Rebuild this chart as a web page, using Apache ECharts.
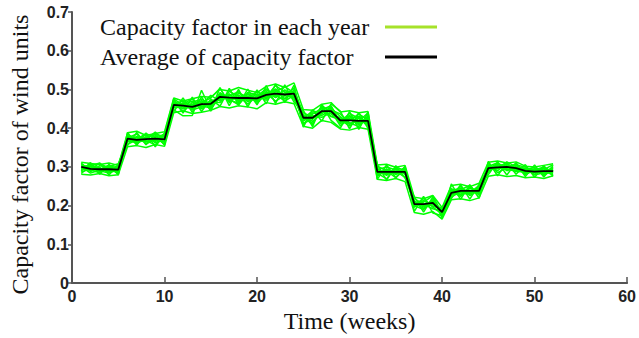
<!DOCTYPE html>
<html>
<head>
<meta charset="utf-8">
<script src="https://cdn.jsdelivr.net/npm/echarts@6/dist/echarts.min.js"></script>
<style>
  html, body { margin: 0; padding: 0; background: #ffffff; }
  #chart { width: 639px; height: 338px; }
</style>
</head>
<body>
<div id="chart"></div>
<script>
// Week numbers (x values)
const weeks = [1,2,3,4,5,6,7,8,9,10,11,12,13,14,15,16,17,18,19,20,21,22,23,24,25,26,
  27,28,29,30,31,32,33,34,35,36,37,38,39,40,41,42,43,44,45,46,47,48,49,50,51,52];

// Average weekly capacity factor over all years
const averageCF = [0.300,0.295,0.294,0.294,0.293, 0.373,0.370,0.372,0.373,0.371,
  0.460,0.458,0.455,0.462,0.463, 0.481,0.479,0.478,0.478,0.477, 0.486,0.489,0.487,0.489,
  0.427,0.427,0.444,0.444, 0.420,0.420,0.419,0.419, 0.287,0.287,0.287,0.287,
  0.204,0.204,0.207,0.183, 0.233,0.238,0.238,0.238, 0.297,0.299,0.300,0.297, 0.290,0.288,0.289,0.289];

// Weekly capacity factor of each simulated year
const year1 = [0.305,0.300,0.288,0.297,0.302, 0.381,0.362,0.378,0.366,0.380, 0.468,0.449,0.462,0.471,0.455,
  0.492,0.470,0.486,0.469,0.489, 0.478,0.502,0.476,0.498, 0.418,0.436,0.452,0.431, 0.428,0.409,0.431,0.412,
  0.296,0.278,0.294,0.281, 0.212,0.196,0.214,0.176, 0.241,0.229,0.247,0.232, 0.305,0.290,0.309,0.291, 0.297,0.281,0.296,0.283];
const year2 = [0.292,0.301,0.297,0.286,0.291, 0.366,0.379,0.364,0.381,0.363, 0.452,0.466,0.447,0.455,0.471,
  0.473,0.489,0.468,0.490,0.470, 0.495,0.479,0.499,0.480, 0.436,0.417,0.438,0.455, 0.411,0.430,0.408,0.427,
  0.279,0.295,0.280,0.296, 0.197,0.213,0.199,0.190, 0.226,0.246,0.231,0.246, 0.288,0.307,0.292,0.306, 0.283,0.296,0.281,0.297];
const year3 = [0.310,0.288,0.303,0.300,0.285, 0.375,0.385,0.359,0.372,0.386, 0.475,0.460,0.470,0.450,0.468,
  0.466,0.495,0.482,0.462,0.484, 0.472,0.494,0.507,0.491, 0.409,0.440,0.433,0.447, 0.437,0.414,0.404,0.433,
  0.302,0.290,0.272,0.295, 0.218,0.204,0.192,0.186, 0.244,0.233,0.229,0.250, 0.301,0.311,0.294,0.289, 0.293,0.299,0.278,0.292];
const year4 = [0.296,0.307,0.291,0.290,0.298, 0.358,0.370,0.383,0.362,0.374, 0.447,0.432,0.433,0.498,0.447,
  0.486,0.475,0.460,0.488,0.463, 0.490,0.470,0.484,0.503, 0.430,0.409,0.460,0.437, 0.417,0.438,0.425,0.405,
  0.284,0.269,0.300,0.290, 0.200,0.190,0.219,0.171, 0.230,0.250,0.226,0.240, 0.293,0.296,0.313,0.300, 0.280,0.292,0.300,0.286];
const year5 = [0.287,0.295,0.309,0.296,0.283, 0.380,0.366,0.371,0.390,0.368, 0.462,0.470,0.458,0.466,0.478,
  0.503,0.466,0.491,0.480,0.474, 0.499,0.487,0.470,0.485, 0.422,0.432,0.428,0.440, 0.424,0.420,0.436,0.422,
  0.291,0.283,0.289,0.273, 0.205,0.213,0.203,0.193, 0.238,0.227,0.240,0.230, 0.310,0.285,0.298,0.305, 0.300,0.286,0.293,0.306];
const year6 = [0.301,0.284,0.292,0.305,0.294, 0.369,0.376,0.368,0.357,0.377, 0.455,0.452,0.461,0.458,0.452,
  0.478,0.485,0.472,0.476,0.495, 0.481,0.510,0.493,0.474, 0.425,0.445,0.438,0.452, 0.430,0.412,0.418,0.440,
  0.276,0.294,0.284,0.299, 0.196,0.209,0.225,0.180, 0.235,0.241,0.252,0.227, 0.287,0.304,0.306,0.296, 0.289,0.285,0.290,0.279];
const year7 = [0.298,0.292,0.285,0.301,0.308, 0.364,0.372,0.386,0.376,0.359, 0.466,0.458,0.450,0.462,0.485,
  0.470,0.483,0.494,0.468,0.482, 0.502,0.480,0.491,0.495, 0.413,0.422,0.456,0.444, 0.406,0.426,0.430,0.410,
  0.293,0.300,0.292,0.288, 0.209,0.200,0.209,0.184, 0.222,0.236,0.234,0.252, 0.296,0.309,0.290,0.300, 0.296,0.279,0.285,0.295];
const year8 = [0.294,0.304,0.298,0.288,0.300, 0.372,0.360,0.374,0.384,0.379, 0.470,0.441,0.467,0.475,0.461,
  0.489,0.472,0.465,0.492,0.486, 0.476,0.496,0.475,0.496, 0.440,0.428,0.445,0.430, 0.422,0.405,0.426,0.416,
  0.287,0.281,0.297,0.283, 0.207,0.193,0.205,0.189, 0.240,0.244,0.236,0.238, 0.300,0.295,0.303,0.288, 0.287,0.294,0.284,0.300];
const year9 = [0.303,0.296,0.290,0.284,0.296, 0.377,0.368,0.365,0.370,0.383, 0.458,0.463,0.475,0.454,0.470,
  0.476,0.480,0.473,0.483,0.468, 0.488,0.498,0.484,0.479, 0.432,0.412,0.448,0.458, 0.415,0.433,0.412,0.428,
  0.283,0.291,0.286,0.292, 0.201,0.219,0.196,0.178, 0.236,0.224,0.245,0.236, 0.291,0.300,0.296,0.309, 0.284,0.290,0.297,0.288];
const year10 = [0.307,0.290,0.296,0.292,0.287, 0.384,0.371,0.376,0.368,0.365, 0.464,0.455,0.452,0.468,0.458,
  0.484,0.477,0.480,0.474,0.479, 0.492,0.484,0.497,0.488, 0.428,0.425,0.440,0.449, 0.419,0.424,0.415,0.418,
  0.290,0.286,0.283,0.290, 0.203,0.201,0.211,0.181, 0.232,0.238,0.231,0.244, 0.298,0.299,0.301,0.294, 0.292,0.286,0.288,0.291];
const year11 = [0.312,0.309,0.306,0.310,0.304, 0.388,0.392,0.381,0.386,0.391, 0.478,0.470,0.476,0.482,0.480,
  0.500,0.496,0.505,0.498,0.492, 0.508,0.514,0.505,0.517, 0.448,0.446,0.462,0.466, 0.442,0.445,0.440,0.443,
  0.305,0.307,0.299,0.304, 0.222,0.218,0.226,0.195, 0.252,0.255,0.249,0.258, 0.312,0.315,0.310,0.313, 0.302,0.300,0.304,0.308];
const year12 = [0.281,0.279,0.283,0.277,0.280, 0.352,0.355,0.350,0.358,0.353, 0.440,0.445,0.438,0.441,0.446,
  0.456,0.452,0.458,0.455,0.450, 0.466,0.462,0.468,0.463, 0.405,0.400,0.420,0.415, 0.398,0.395,0.402,0.397,
  0.268,0.265,0.270,0.262, 0.182,0.178,0.185,0.165, 0.215,0.218,0.213,0.220, 0.276,0.280,0.275,0.278, 0.272,0.274,0.270,0.277];
const year13 = [0.289,0.311,0.281,0.306,0.279, 0.389,0.356,0.388,0.352,0.387, 0.443,0.478,0.441,0.481,0.444,
  0.505,0.458,0.500,0.455,0.499, 0.463,0.513,0.466,0.511, 0.403,0.448,0.418,0.463, 0.444,0.398,0.441,0.399,
  0.306,0.266,0.303,0.271, 0.223,0.183,0.222,0.168, 0.256,0.216,0.254,0.219, 0.314,0.277,0.312,0.281, 0.306,0.273,0.303,0.276];
const year14 = [0.283,0.303,0.310,0.279,0.306, 0.355,0.389,0.357,0.387,0.356, 0.476,0.439,0.480,0.443,0.475,
  0.457,0.503,0.461,0.501,0.460, 0.510,0.464,0.512,0.467, 0.446,0.404,0.461,0.420, 0.400,0.443,0.397,0.441,
  0.268,0.305,0.272,0.302, 0.185,0.224,0.181,0.174, 0.218,0.254,0.217,0.255, 0.280,0.313,0.279,0.311, 0.275,0.305,0.274,0.304];

const yearlyCF = [year1, year2, year3, year4, year5, year6, year7, year8, year9, year10,
  year11, year12, year13, year14];

const NAME_YEARS = 'Capacity factor in each year';
const NAME_AVG = 'Average of capacity factor';
const SERIF = '"Liberation Serif", "Times New Roman", serif';
const SANS = '"Liberation Sans", Arial, sans-serif';

const pairs = (ys) => weeks.map((w, i) => [w, ys[i]]);

const series = yearlyCF.map((ys) => ({
  name: NAME_YEARS,
  type: 'line',
  data: pairs(ys),
  showSymbol: false,
  silent: true,
  lineStyle: { color: '#00ff00', width: 1.5 },
  itemStyle: { color: '#00ff00' },
  z: 2
}));
series.push({
  name: NAME_AVG,
  type: 'line',
  data: pairs(averageCF),
  showSymbol: false,
  silent: true,
  lineStyle: { color: '#000000', width: 1.8 },
  itemStyle: { color: '#000000' },
  z: 5
});

const chart = echarts.init(document.getElementById('chart'), null, { renderer: 'svg' });
chart.setOption({
  animation: false,
  backgroundColor: '#ffffff',
  grid: { left: 72, right: 9, top: 12, bottom: 52, containLabel: false },
  legend: {
    left: 100,
    top: 15,
    orient: 'vertical',
    align: 'right',
    padding: 0,
    itemGap: 6,
    itemWidth: 52,
    itemHeight: 3,
    icon: 'rect',
    selectedMode: false,
    formatter: (name) => '{t|' + name + '}',
    textStyle: {
      rich: { t: { width: 280, align: 'left', fontFamily: SERIF, fontSize: 24, lineHeight: 23, color: '#111' } }
    },
    data: [
      { name: NAME_YEARS, itemStyle: { color: '#a6e22a' } },
      { name: NAME_AVG, itemStyle: { color: '#000000' } }
    ]
  },
  xAxis: {
    type: 'value',
    min: 0, max: 60, interval: 10,
    name: 'Time (weeks)',
    nameLocation: 'middle',
    nameGap: 18,
    nameTextStyle: { fontFamily: SERIF, fontSize: 24, color: '#111' },
    axisLine: { lineStyle: { color: '#555', width: 2 } },
    axisTick: { inside: true, length: 6, lineStyle: { color: '#555', width: 1.5 } },
    axisLabel: { fontFamily: SANS, fontWeight: 'bold', fontSize: 16, color: '#222', margin: 5 },
    splitLine: { show: false }
  },
  yAxis: {
    type: 'value',
    min: 0, max: 0.7, interval: 0.1,
    name: 'Capacity factor of wind units',
    nameLocation: 'middle',
    nameGap: 40,
    nameTextStyle: { fontFamily: SERIF, fontSize: 24, color: '#111', padding: [0, 14, 0, 0] },
    axisLine: { show: true, lineStyle: { color: '#555', width: 2 } },
    axisTick: { show: true, inside: false, length: 4, lineStyle: { color: '#555', width: 1.5 } },
    axisLabel: { fontFamily: SANS, fontWeight: 'bold', fontSize: 16, color: '#222', margin: 3 },
    splitLine: { show: false }
  },
  series: series
});
</script>
</body>
</html>
